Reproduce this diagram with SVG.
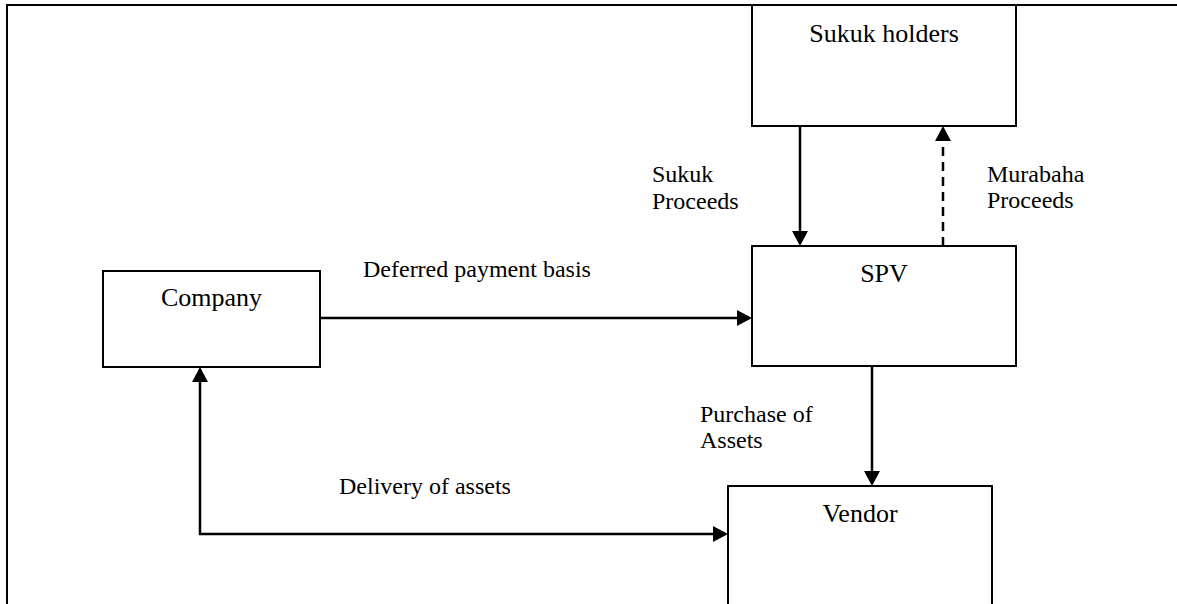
<svg xmlns="http://www.w3.org/2000/svg" width="1177" height="604" viewBox="0 0 1177 604">
<style>
.box{fill:#fff;stroke:#000;stroke-width:2}
.name{font-family:"Liberation Serif","Times New Roman",serif;font-size:26px;fill:#000;text-anchor:middle}
.lbl{font-family:"Liberation Serif","Times New Roman",serif;font-size:24px;fill:#000}
.con{fill:none;stroke:#000;stroke-width:2.5}
.dash{stroke-dasharray:9 6}
</style>
<defs>
<marker id="ah" markerUnits="userSpaceOnUse" markerWidth="16" markerHeight="16" refX="12" refY="8" orient="auto-start-reverse">
<path d="M0,0 L15,8 L0,16 Z" fill="#000"/>
</marker>
</defs>
<rect width="1177" height="604" fill="#fff"/>
<g id="frame">
<path d="M7,604 V5 H1177" fill="none" stroke="#000" stroke-width="2"/>
</g>
<g id="sukuk-holders">
<rect class="box" x="752" y="5" width="264" height="121"/>
<text class="name" x="884" y="42">Sukuk holders</text>
</g>
<g id="spv">
<rect class="box" x="752" y="246" width="264" height="120"/>
<text class="name" x="884" y="282">SPV</text>
</g>
<g id="company">
<rect class="box" x="103" y="271" width="217" height="96"/>
<text class="name" x="211.5" y="306">Company</text>
</g>
<g id="vendor">
<rect class="box" x="728" y="486" width="264" height="130"/>
<text class="name" x="860" y="522">Vendor</text>
</g>
<g id="connectors">
<path class="con" d="M800,126 V243" marker-end="url(#ah)"/>
<path class="con dash" d="M943,246 V129" marker-end="url(#ah)"/>
<path class="con" d="M320,318 H749" marker-end="url(#ah)"/>
<path class="con" d="M872,366 V483" marker-end="url(#ah)"/>
<path class="con" d="M200,370 V534 H725" marker-start="url(#ah)" marker-end="url(#ah)"/>
</g>
<g id="labels">
<text class="lbl" x="652" y="182">Sukuk</text>
<text class="lbl" x="652" y="209">Proceeds</text>
<text class="lbl" x="987" y="182">Murabaha</text>
<text class="lbl" x="987" y="208">Proceeds</text>
<text class="lbl" x="363" y="277">Deferred payment basis</text>
<text class="lbl" x="700" y="422">Purchase of</text>
<text class="lbl" x="700" y="448">Assets</text>
<text class="lbl" x="339" y="494">Delivery of assets</text>
</g>
</svg>
